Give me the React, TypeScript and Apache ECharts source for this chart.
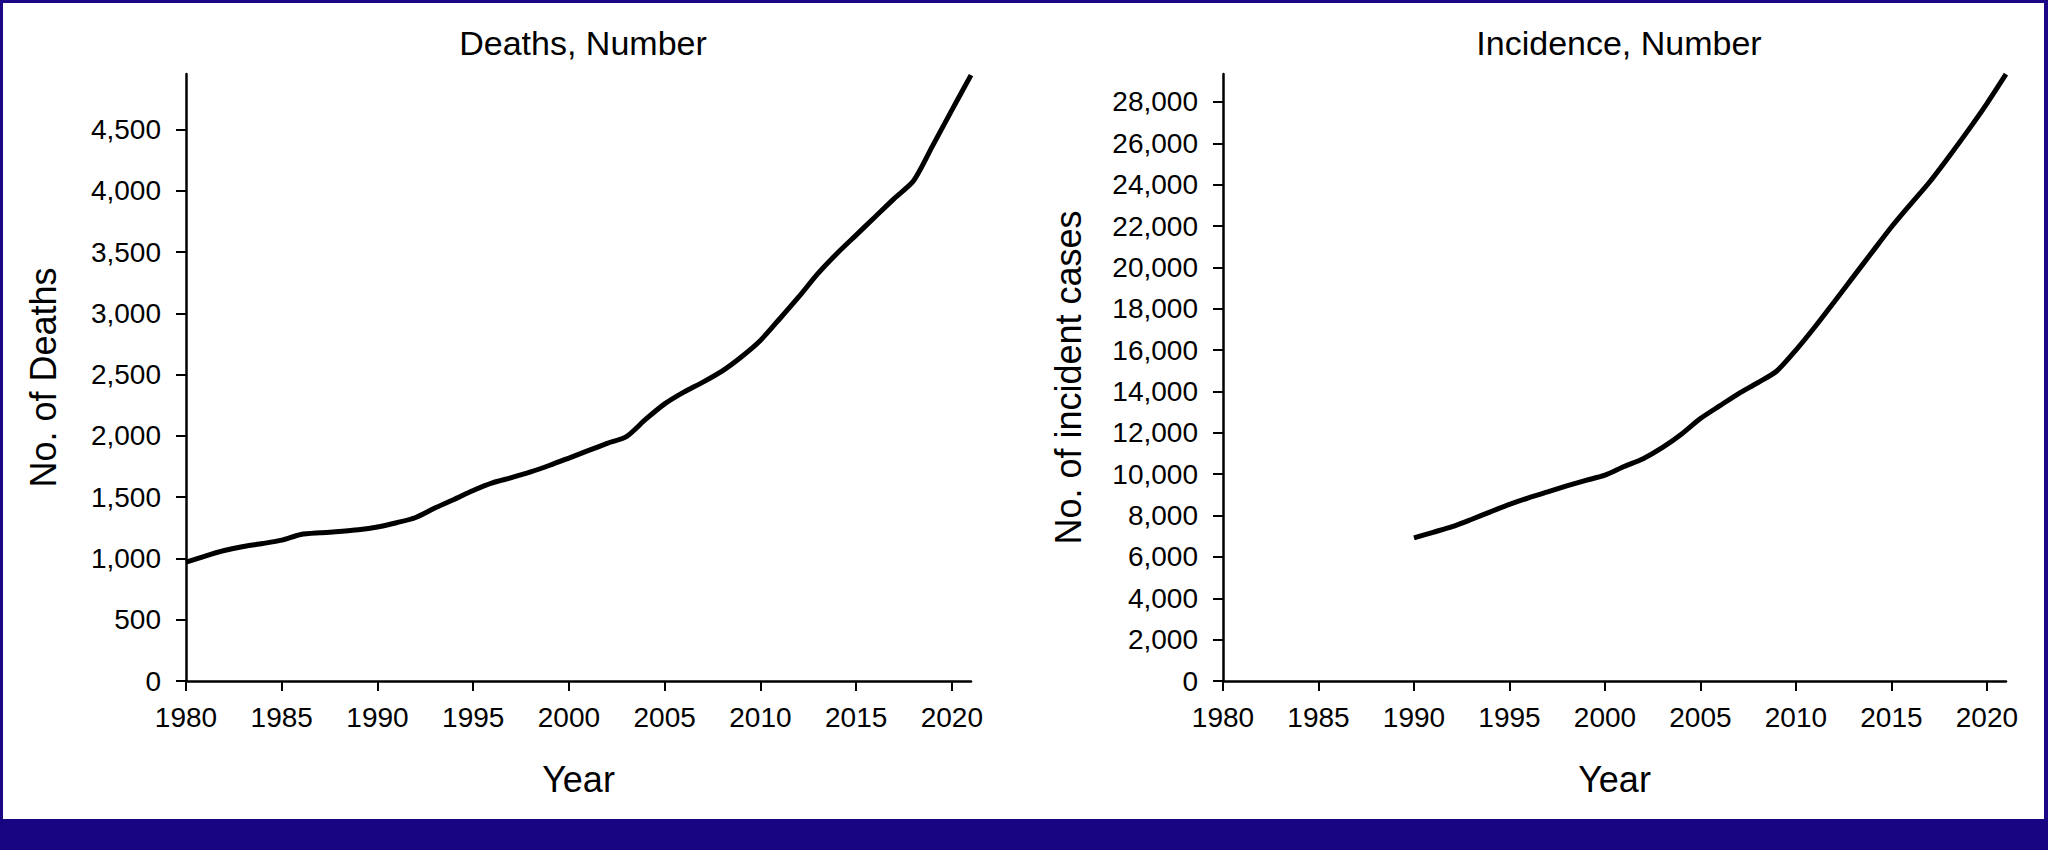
import React, { useEffect, useRef } from "react";
import * as echarts from "echarts";

const deathYears = [1980, 1981, 1982, 1983, 1984, 1985, 1986, 1987, 1988, 1989, 1990, 1991, 1992, 1993, 1994, 1995, 1996, 1997, 1998, 1999, 2000, 2001, 2002, 2003, 2004, 2005, 2006, 2007, 2008, 2009, 2010, 2011, 2012, 2013, 2014, 2015, 2016, 2017, 2018, 2019, 2020, 2021];
const deaths = [970, 1020, 1065, 1098, 1122, 1150, 1196, 1210, 1220, 1234, 1257, 1292, 1335, 1412, 1482, 1555, 1617, 1660, 1707, 1761, 1820, 1880, 1940, 1995, 2135, 2262, 2358, 2440, 2530, 2645, 2780, 2955, 3135, 3325, 3490, 3640, 3790, 3940, 4083, 4370, 4660, 4946];

const incidenceYears = [1990, 1991, 1992, 1993, 1994, 1995, 1996, 1997, 1998, 1999, 2000, 2001, 2002, 2003, 2004, 2005, 2006, 2007, 2008, 2009, 2010, 2011, 2012, 2013, 2014, 2015, 2016, 2017, 2018, 2019, 2020, 2021];
const incidence = [6920, 7190, 7460, 7810, 8180, 8540, 8860, 9140, 9430, 9700, 9950, 10370, 10750, 11280, 11930, 12690, 13300, 13900, 14420, 14990, 16000, 17130, 18330, 19540, 20750, 21950, 23050, 24130, 25340, 26600, 27920, 29340];

const panelTitles = ["Deaths, Number", "Incidence, Number"];
const yAxisNames = ["No. of Deaths", "No. of incident cases"];
const xAxisName = "Year";

const FONT = "'Liberation Sans', Arial, Helvetica, sans-serif";

export default function App() {
  const ref = useRef<HTMLDivElement>(null);
  useEffect(() => {
    if (!ref.current) return;
    const chart = echarts.init(ref.current, null, { renderer: "svg" });
    const fmtNum = (v: number) => Math.round(v).toLocaleString("en-US");
    const axisLineStyle = { color: "#000", width: 2.5 };
    const xAxisBase = (gridIndex: number) => ({
      type: "value",
      gridIndex,
      min: 1980,
      max: 2021,
      interval: 5,
      name: xAxisName,
      nameLocation: "middle",
      nameGap: 80,
      nameTextStyle: { color: "#000", fontSize: 36, fontFamily: FONT },
      axisLine: { show: true, onZero: false, lineStyle: axisLineStyle },
      axisTick: { show: true, length: 10, lineStyle: { color: "#000", width: 2 } },
      axisLabel: {
        color: "#000",
        fontSize: 28,
        fontFamily: FONT,
        margin: 22,
        showMaxLabel: false,
        formatter: (v: number) => String(v),
      },
      splitLine: { show: false },
    });
    const yAxisBase = (gridIndex: number, max: number, interval: number, name: string, gap: number) => ({
      type: "value",
      gridIndex,
      min: 0,
      max,
      interval,
      name,
      nameLocation: "middle",
      nameGap: gap,
      nameRotate: 90,
      nameTextStyle: { color: "#000", fontSize: 36, fontFamily: FONT },
      axisLine: { show: true, lineStyle: axisLineStyle },
      axisTick: { show: true, length: 10, lineStyle: { color: "#000", width: 2 } },
      axisLabel: {
        color: "#000",
        fontSize: 28,
        fontFamily: FONT,
        margin: 25,
        showMaxLabel: false,
        formatter: (v: number) => fmtNum(v),
      },
      splitLine: { show: false },
    });

    chart.setOption({
      animation: false,
      backgroundColor: "#fff",
      title: [
        {
          text: panelTitles[0],
          left: 578,
          top: 21,
          textAlign: "center",
          textStyle: { color: "#000", fontSize: 34, fontWeight: "normal", fontFamily: FONT },
        },
        {
          text: panelTitles[1],
          left: 1614,
          top: 21,
          textAlign: "center",
          textStyle: { color: "#000", fontSize: 34, fontWeight: "normal", fontFamily: FONT },
        },
      ],
      grid: [
        { left: 186, top: 74, width: 785, height: 607, containLabel: false },
        { left: 1223, top: 74, width: 783, height: 607, containLabel: false },
      ],
      xAxis: [xAxisBase(0), xAxisBase(1)],
      yAxis: [
        yAxisBase(0, 4955, 500, yAxisNames[0], 125),
        yAxisBase(1, 29350, 2000, yAxisNames[1], 137),
      ],
      series: [
        {
          type: "line",
          xAxisIndex: 0,
          yAxisIndex: 0,
          data: deathYears.map((y, i) => [y, deaths[i]]),
          showSymbol: false,
          symbol: "none",
          smooth: 0.25,
          lineStyle: { color: "#000", width: 5 },
        },
        {
          type: "line",
          xAxisIndex: 1,
          yAxisIndex: 1,
          data: incidenceYears.map((y, i) => [y, incidence[i]]),
          showSymbol: false,
          symbol: "none",
          smooth: 0.25,
          lineStyle: { color: "#000", width: 5 },
        },
      ],
      graphic: [
        { type: "rect", shape: { x: 0, y: 0, width: 2048, height: 3 }, style: { fill: "#1a0886" } },
        { type: "rect", shape: { x: 0, y: 0, width: 3, height: 850 }, style: { fill: "#1a0886" } },
        { type: "rect", shape: { x: 2044, y: 0, width: 4, height: 850 }, style: { fill: "#1a0886" } },
        { type: "rect", shape: { x: 0, y: 819, width: 2048, height: 31 }, style: { fill: "#170480" } },
      ],
    });
    return () => chart.dispose();
  }, []);
  return (
    <div
      ref={ref}
      style={{ position: "fixed", left: 0, top: 0, width: 2048, height: 850 }}
    />
  );
}
